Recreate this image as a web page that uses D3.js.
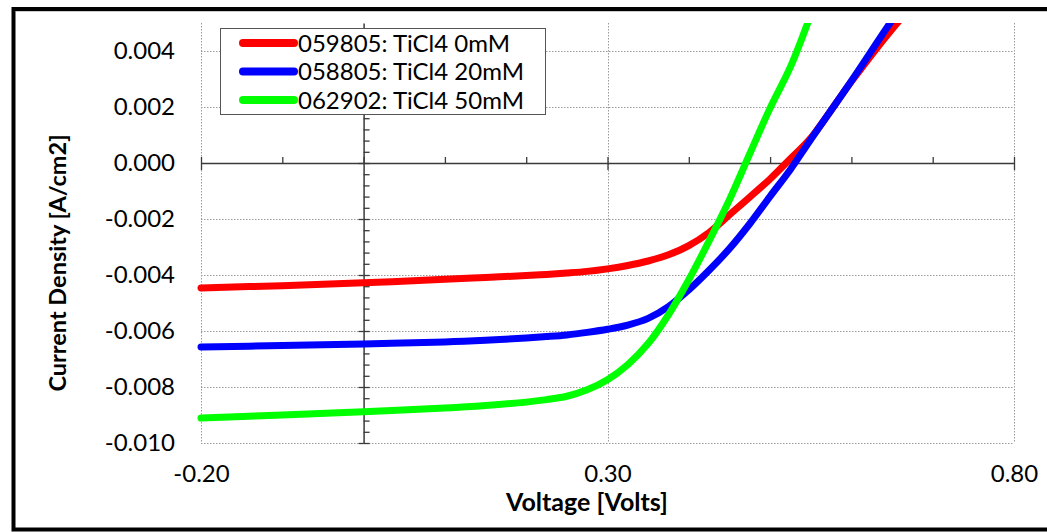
<!DOCTYPE html>
<html>
<head>
<meta charset="utf-8">
<script src="https://cdn.jsdelivr.net/npm/d3@7"></script>
<style>
  html, body { margin: 0; padding: 0; background: #fff; }
  svg { display: block; }
  text { font-family: Lato, "Open Sans", sans-serif; fill: #000; }
</style>
</head>
<body>
<svg id="chart" width="1047" height="532"></svg>
<script>
// ---------- data ----------
const voltage = [-0.20, -0.10, 0.00, 0.10, 0.15, 0.20, 0.225, 0.25, 0.275, 0.30, 0.325, 0.35, 0.375, 0.40, 0.425, 0.45, 0.475, 0.50, 0.525, 0.55, 0.60, 0.65, 0.675];
const seriesNames = ["059805: TiCl4 0mM", "058805: TiCl4 20mM", "062902: TiCl4 50mM"];
const seriesColors = ["#ff0000", "#0000ff", "#00ff00"];
const current0mM = [-0.00446, -0.00438, -0.00428, -0.00415, -0.00409, -0.00402, -0.00398, -0.00393, -0.00387, -0.00378, -0.00366, -0.00350, -0.00328, -0.00295, -0.00248, -0.00185, -0.00122, -0.00057, 0.00015, 0.00089, 0.00291, 0.00478, 0.00560];
const current20mM = [-0.00657, -0.00652, -0.00646, -0.00639, -0.00633, -0.00625, -0.00620, -0.00614, -0.00605, -0.00594, -0.00579, -0.00555, -0.00513, -0.00453, -0.00383, -0.00306, -0.00217, -0.00119, -0.00023, 0.00084, 0.00293, 0.00510, 0.00610];
const current50mM = [-0.00911, -0.00900, -0.00888, -0.00875, -0.00866, -0.00854, -0.00845, -0.00833, -0.00810, -0.00774, -0.00720, -0.00645, -0.00542, -0.00417, -0.00278, -0.00131, 0.00033, 0.00196, 0.00343, 0.00530, null, null, null];
const xTickLabels = [-0.20, 0.30, 0.80];
const xMinorTicks = [-0.20, -0.10, 0.00, 0.10, 0.20, 0.30, 0.40, 0.50, 0.60, 0.70, 0.80];
const yTickLabels = [-0.010, -0.008, -0.006, -0.004, -0.002, 0.000, 0.002, 0.004];
const yMinorTicks = [-0.0100,-0.0096,-0.0092,-0.0088,-0.0084,-0.0080,-0.0076,-0.0072,-0.0068,-0.0064,-0.0060,-0.0056,-0.0052,-0.0048,-0.0044,-0.0040,-0.0036,-0.0032,-0.0028,-0.0024,-0.0020,-0.0016,-0.0012,-0.0008,-0.0004,0.0000,0.0004,0.0008,0.0012,0.0016,0.0020,0.0024,0.0028,0.0032,0.0036,0.0040,0.0044,0.0048];
const xTitle = "Voltage [Volts]";
const yTitle = "Current Density [A/cm2]";

const allSeries = [current0mM, current20mM, current50mM];

// ---------- layout ----------
const svg = d3.select("#chart");
const L = 201, R = 1014, T = 23, B = 443;
const x = d3.scaleLinear().domain([-0.20, 0.80]).range([L, R]);
const y = d3.scaleLinear().domain([-0.010, 0.005]).range([B, T]);
const fmtY = d => (Math.abs(d) < 1e-9 ? 0 : d).toFixed(3);
const fmtX = d => d.toFixed(2);

// outer frame
svg.append("rect").attr("x", 13.5).attr("y", 9).attr("width", 1060).attr("height", 520.5)
  .attr("fill", "none").attr("stroke", "#000").attr("stroke-width", 4);
svg.append("line").attr("x1", 16).attr("x2", 1047).attr("y1", 11.5).attr("y2", 11.5)
  .attr("stroke", "#ccc").attr("stroke-width", 1);

// gridlines
const grid = svg.append("g").attr("stroke", "#9a9a9a").attr("stroke-width", 1).attr("stroke-dasharray", "1.5,1.5");
grid.selectAll("line.h").data(yTickLabels.filter(d => Math.abs(d) > 1e-9)).join("line")
  .attr("x1", L).attr("x2", R).attr("y1", d => Math.round(y(d)) + 0.5).attr("y2", d => Math.round(y(d)) + 0.5);
grid.selectAll("line.v").data(xTickLabels).join("line")
  .attr("x1", d => Math.round(x(d)) + 0.5).attr("x2", d => Math.round(x(d)) + 0.5).attr("y1", T).attr("y2", B);

// axes through origin
const axisColor = "#3a3a3a";
function styleAxis(g) {
  g.selectAll("path.domain").attr("stroke", axisColor).attr("stroke-width", 1.5);
  g.selectAll(".tick line").attr("stroke", axisColor).attr("stroke-width", 1.3);
  g.selectAll(".tick text").remove();
}
const y0 = y(0), x0 = x(0);
svg.append("g").attr("transform", `translate(0,${y0})`)
  .call(d3.axisTop(x).tickValues(xMinorTicks).tickSize(6).tickSizeOuter(0)).call(styleAxis);
svg.append("g").attr("transform", `translate(0,${y0})`)
  .call(d3.axisBottom(x).tickValues(xTickLabels).tickSize(7).tickSizeOuter(0)).call(styleAxis)
  .call(g => g.select("path.domain").remove());
svg.append("g").attr("transform", `translate(${x0},0)`)
  .call(d3.axisRight(y).tickValues(yMinorTicks.filter(d => d <= 0.0049)).tickSize(6).tickSizeOuter(0)).call(styleAxis);
svg.append("g").attr("transform", `translate(${x0},0)`)
  .call(d3.axisLeft(y).tickValues(yTickLabels).tickSize(5).tickSizeOuter(0)).call(styleAxis)
  .call(g => g.select("path.domain").remove());

// tick labels
const yLab = svg.append("g").attr("transform", `translate(${L},0)`)
  .call(d3.axisLeft(y).tickValues(yTickLabels).tickFormat(fmtY).tickSize(0).tickPadding(26));
yLab.select("path.domain").remove();
yLab.selectAll("text").attr("font-family", "Lato").attr("font-size", 24).attr("fill", "#000");

const xLab = svg.append("g").attr("transform", `translate(0,${B})`)
  .call(d3.axisBottom(x).tickValues(xTickLabels).tickFormat(fmtX).tickSize(0).tickPadding(22));
xLab.select("path.domain").remove();
xLab.selectAll("text").attr("font-family", "Lato").attr("font-size", 24).attr("fill", "#000");

// axis titles
svg.append("text").attr("x", 587).attr("y", 511).attr("text-anchor", "middle")
  .attr("font-weight", "bold").attr("font-size", 25).text(xTitle);
svg.append("text").attr("transform", `translate(66,263) rotate(-90)`).attr("text-anchor", "middle")
  .attr("font-weight", "bold").attr("font-size", 23.5).text(yTitle);

// clip
svg.append("clipPath").attr("id", "plotclip").append("rect")
  .attr("x", L - 5).attr("y", T).attr("width", R - L + 10).attr("height", B - T + 5);

// series
const line = d3.line()
  .defined(d => d[1] !== null)
  .x(d => x(d[0])).y(d => y(d[1]))
  .curve(d3.curveCatmullRom.alpha(0.5));
const plot = svg.append("g").attr("clip-path", "url(#plotclip)");
allSeries.forEach((vals, i) => {
  plot.append("path")
    .datum(voltage.map((v, k) => [v, vals[k]]))
    .attr("fill", "none").attr("stroke", seriesColors[i]).attr("stroke-width", 7)
    .attr("stroke-linejoin", "round").attr("stroke-linecap", "round")
    .attr("d", line);
});

// legend
const lg = svg.append("g");
lg.append("rect").attr("x", 220.5).attr("y", 28.5).attr("width", 325).attr("height", 86)
  .attr("fill", "#fff").attr("stroke", "#555").attr("stroke-width", 1);
seriesNames.forEach((name, i) => {
  const yy = 43 + i * 28.5;
  lg.append("line").attr("x1", 243).attr("x2", 294).attr("y1", yy).attr("y2", yy)
    .attr("stroke", seriesColors[i]).attr("stroke-width", 8).attr("stroke-linecap", "round");
  lg.append("text").attr("x", 298).attr("y", yy + 8.5).attr("font-size", 24).text(name);
});
</script>
</body>
</html>
